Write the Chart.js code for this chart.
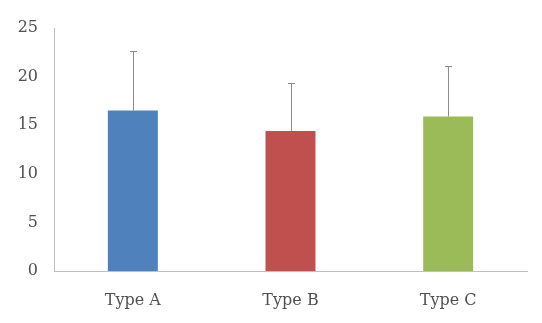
<!DOCTYPE html>
<html>
<head>
<meta charset="utf-8">
<script src="https://cdn.jsdelivr.net/npm/chart.js@4/dist/chart.umd.min.js"></script>
<style>
  html, body { margin: 0; padding: 0; background: #fff; }
  #wrap { width: 542px; height: 323px; }
</style>
</head>
<body>
<div id="wrap"><canvas id="c" width="542" height="323"></canvas></div>
<script>
// Category names, mean values and the upper error amounts
const categories = ["Type A", "Type B", "Type C"];
const means = [16.5, 14.4, 15.9];
const errors = [6.1, 4.9, 5.2];
const barColors = ["#4F81BD", "#C0504D", "#9BBB59"];
const yTicks = [0, 5, 10, 15, 20, 25];

// Draws the upward error whiskers with small caps
const errorBars = {
  id: "errorBars",
  afterDatasetsDraw(chart) {
    const ctx = chart.ctx;
    const meta = chart.getDatasetMeta(0);
    const y = chart.scales.y;
    ctx.save();
    ctx.strokeStyle = "#8C8C8C";
    ctx.lineWidth = 1;
    meta.data.forEach((bar, i) => {
      const x = Math.round(bar.x) + 0.5;
      const y0 = y.getPixelForValue(means[i]);
      const y1 = Math.round(y.getPixelForValue(means[i] + errors[i])) + 0.5;
      ctx.beginPath();
      ctx.moveTo(x, y0);
      ctx.lineTo(x, y1);
      ctx.moveTo(x - 3.5, y1);
      ctx.lineTo(x + 3.5, y1);
      ctx.stroke();
    });
    ctx.restore();
  }
};

new Chart(document.getElementById("c"), {
  type: "bar",
  data: {
    labels: categories,
    datasets: [{
      data: means,
      backgroundColor: barColors,
      borderWidth: 0,
      categoryPercentage: 1,
      barPercentage: 0.317
    }]
  },
  options: {
    responsive: false,
    animation: false,
    layout: { padding: { top: 28, right: 15, bottom: 0, left: 0 } },
    plugins: { legend: { display: false }, tooltip: { enabled: false } },
    scales: {
      x: {
        grid: { display: false },
        border: { display: true, color: "#BFBFBF", width: 1 },
        ticks: {
          color: "#505050",
          font: { family: "DejaVu Serif", size: 16 },
          padding: 12
        },
        afterFit(scale) { scale.height = 52; }
      },
      y: {
        min: 0,
        max: 25,
        afterBuildTicks(scale) { scale.ticks = yTicks.map(v => ({ value: v })); },
        grid: { display: false },
        border: { display: true, color: "#BFBFBF", width: 1 },
        ticks: {
          color: "#505050",
          font: { family: "DejaVu Serif", size: 16 },
          padding: 8
        },
        afterFit(scale) { scale.width = 54; }
      }
    }
  },
  plugins: [errorBars]
});
</script>
</body>
</html>
